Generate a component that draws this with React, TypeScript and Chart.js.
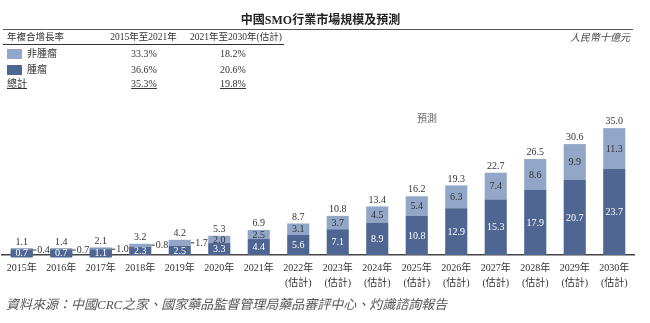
import React, { useEffect, useRef } from "react";
import { Chart, registerables } from "chart.js";

Chart.register(...registerables);

const years = ["2015年", "2016年", "2017年", "2018年", "2019年", "2020年", "2021年", "2022年", "2023年", "2024年", "2025年", "2026年", "2027年", "2028年", "2029年", "2030年"];
const estimated = [false, false, false, false, false, false, false, true, true, true, true, true, true, true, true, true];
const tumor = [0.7, 0.7, 1.1, 2.3, 2.5, 3.3, 4.4, 5.6, 7.1, 8.9, 10.8, 12.9, 15.3, 17.9, 20.7, 23.7];
const nonTumor = [0.4, 0.7, 1.0, 0.8, 1.7, 2.0, 2.5, 3.1, 3.7, 4.5, 5.4, 6.3, 7.4, 8.6, 9.9, 11.3];
const totals = [1.1, 1.4, 2.1, 3.2, 4.2, 5.3, 6.9, 8.7, 10.8, 13.4, 16.2, 19.3, 22.7, 26.5, 30.6, 35.0];

const cagrHeaders = ["年複合增長率", "2015年至2021年", "2021年至2030年(估計)"];
const cagrNonTumor = ["非腫瘤", "33.3%", "18.2%"];
const cagrTumor = ["腫瘤", "36.6%", "20.6%"];
const cagrTotal = ["總計", "35.3%", "19.8%"];

const DARK = "#4f6693";
const LIGHT = "#92a6c8";
const TEXT = "#333";
const FONT = '"Liberation Serif", "Noto Sans CJK TC", serif';

const fmt = (v: number) => v.toFixed(1);

const labelPlugin = {
  id: "barLabels",
  afterDatasetsDraw(chart: any) {
    const ctx = chart.ctx as CanvasRenderingContext2D;
    const m0 = chart.getDatasetMeta(0);
    const m1 = chart.getDatasetMeta(1);
    ctx.save();
    ctx.font = `10px ${FONT}`;
    ctx.textAlign = "center";
    ctx.textBaseline = "middle";
    years.forEach((_, i) => {
      const b0: any = m0.data[i];
      const b1: any = m1.data[i];
      const x = b0.x;
      const w = b0.width;
      const base = b0.base;
      const h0 = base - b0.y;
      let top = b1.y;
      if (h0 < 8) {
        const bt = base - 6.5;
        const bh = 9;
        ctx.fillStyle = DARK;
        ctx.fillRect(x - w / 2, bt, w, bh);
        ctx.strokeStyle = LIGHT;
        ctx.lineWidth = 1;
        ctx.beginPath();
        ctx.moveTo(x - w / 2, bt + 0.5);
        ctx.lineTo(x + w / 2, bt + 0.5);
        ctx.stroke();
        ctx.fillStyle = "#fff";
        ctx.fillText(fmt(tumor[i]), x, bt + bh / 2 + 0.5);
        top = Math.min(top, bt);
      } else {
        ctx.fillStyle = "#fff";
        ctx.fillText(fmt(tumor[i]), x, (b0.y + base) / 2 + 0.5);
      }
      const h1 = b1.base - b1.y;
      if (h1 < 7) {
        const ly = Math.min((b1.y + b1.base) / 2, base - 5);
        ctx.strokeStyle = TEXT;
        ctx.lineWidth = 1;
        ctx.beginPath();
        ctx.moveTo(x + w / 2, ly);
        ctx.lineTo(x + w / 2 + 3.5, ly);
        ctx.stroke();
        ctx.fillStyle = TEXT;
        ctx.textAlign = "left";
        ctx.fillText(fmt(nonTumor[i]), x + w / 2 + 4.5, ly + 0.5);
        ctx.textAlign = "center";
      } else {
        ctx.fillStyle = TEXT;
        ctx.fillText(fmt(nonTumor[i]), x, (b1.y + b1.base) / 2 + 0.5);
      }
      ctx.fillStyle = TEXT;
      ctx.textBaseline = "bottom";
      ctx.fillText(fmt(totals[i]), x, top - 1.5);
      ctx.textBaseline = "middle";
    });
    ctx.restore();
  },
};

function T(props: { x: number; y: number; align?: "left" | "center" | "right"; size?: number; style?: React.CSSProperties; children: React.ReactNode }) {
  const { x, y, align = "left", size = 10, style, children } = props;
  const lh = size * 1.4;
  const s: React.CSSProperties = {
    position: "absolute",
    top: y - lh / 2,
    lineHeight: `${lh}px`,
    fontSize: size,
    whiteSpace: "nowrap",
    ...style,
  };
  if (align === "left") s.left = x;
  else if (align === "right") s.right = 650 - x;
  else {
    s.left = x;
    s.transform = "translateX(-50%)";
  }
  return <div style={s}>{children}</div>;
}

export default function App() {
  const ref = useRef<HTMLCanvasElement | null>(null);
  useEffect(() => {
    if (!ref.current) return;
    const labels = years.map((y, i) => (estimated[i] ? [y, "(估計)"] : y));
    const chart = new Chart(ref.current, {
      type: "bar",
      data: {
        labels,
        datasets: [
          { label: cagrTumor[0], data: tumor, backgroundColor: DARK, borderWidth: 0, barPercentage: 0.56, categoryPercentage: 1 },
          { label: cagrNonTumor[0], data: nonTumor, backgroundColor: LIGHT, borderWidth: 0, barPercentage: 0.56, categoryPercentage: 1 },
        ],
      },
      options: {
        animation: false,
        responsive: false,
        maintainAspectRatio: false,
        devicePixelRatio: 1,
        layout: { padding: { left: 2, right: 16, top: 110, bottom: 0 } },
        plugins: { legend: { display: false }, tooltip: { enabled: false } },
        scales: {
          x: {
            stacked: true,
            grid: { display: false, drawTicks: false },
            border: { display: true, color: "#444", width: 1.5 },
            ticks: {
              color: TEXT,
              font: { family: FONT, size: 10, lineHeight: 1.5 },
              padding: 5.5,
              maxRotation: 0,
              autoSkip: false,
            },
            afterFit: (scale: any) => {
              scale.height = 68;
            },
          },
          y: { stacked: true, display: false, min: 0, max: 40 },
        },
      },
      plugins: [labelPlugin],
    });
    return () => chart.destroy();
  }, []);

  return (
    <div lang="zh-Hant" style={{ position: "fixed", left: 0, top: 0, width: 650, height: 323, background: "#fff", fontFamily: FONT, color: TEXT, overflow: "hidden" }}>
      <canvas ref={ref} width={650} height={323} style={{ position: "absolute", left: 0, top: 0, width: 650, height: 323 }} />
      <T x={320.5} y={20} align="center" size={12} style={{ fontWeight: "bold", color: "#222" }}>中國SMO行業市場規模及預測</T>
      <div style={{ position: "absolute", left: 3, top: 28.5, width: 630, borderTop: "1.2px solid #555" }} />
      <T x={7} y={37.7} size={9.5}>{cagrHeaders[0]}</T>
      <T x={143.5} y={37.7} align="center" size={9.5}>{cagrHeaders[1]}</T>
      <T x={236} y={37.7} align="center" size={9.5}>{cagrHeaders[2]}</T>
      <div style={{ position: "absolute", left: 3, top: 44, width: 281, borderTop: "1.5px solid #333" }} />
      <T x={630} y={37.7} align="right" size={10} style={{ fontStyle: "italic", color: "#444" }}>人民幣十億元</T>

      <div style={{ position: "absolute", left: 7, top: 49.3, width: 15, height: 10, background: LIGHT }} />
      <T x={27} y={54.3} size={10}>{cagrNonTumor[0]}</T>
      <T x={144} y={54.3} align="center" size={10}>{cagrNonTumor[1]}</T>
      <T x={233} y={54.3} align="center" size={10}>{cagrNonTumor[2]}</T>

      <div style={{ position: "absolute", left: 7, top: 65, width: 15, height: 10, background: DARK }} />
      <T x={27} y={70} size={10}>{cagrTumor[0]}</T>
      <T x={144} y={70} align="center" size={10}>{cagrTumor[1]}</T>
      <T x={233} y={70} align="center" size={10}>{cagrTumor[2]}</T>

      <T x={7} y={84.3} size={10} style={{ textDecoration: "underline" }}>{cagrTotal[0]}</T>
      <T x={144} y={84.3} align="center" size={10} style={{ textDecoration: "underline" }}>{cagrTotal[1]}</T>
      <T x={233} y={84.3} align="center" size={10} style={{ textDecoration: "underline" }}>{cagrTotal[2]}</T>

      <T x={427} y={119} align="center" size={10} style={{ color: "#666" }}>預測</T>
      <T x={6} y={305} size={13} style={{ fontStyle: "italic", color: "#555", letterSpacing: 0 }}>資料來源：中國CRC之家、國家藥品監督管理局藥品審評中心、灼識諮詢報告</T>
    </div>
  );
}
